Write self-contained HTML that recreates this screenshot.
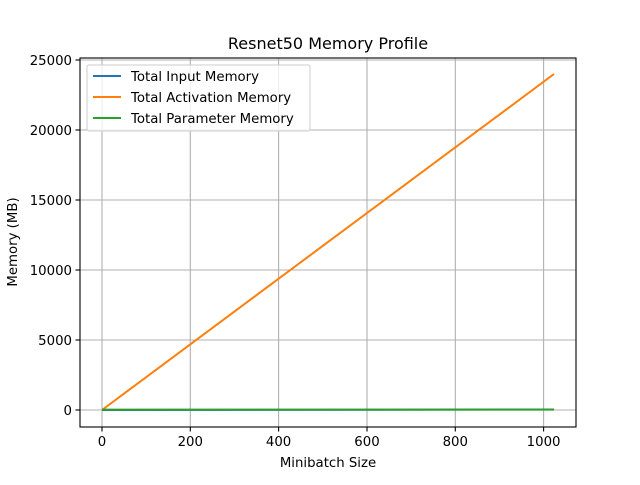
<!DOCTYPE html>
<html><head><meta charset="utf-8"><style>html,body{margin:0;padding:0;background:#fff}</style></head>
<body>
<svg width="640" height="480" xmlns="http://www.w3.org/2000/svg" font-family="'DejaVu Sans', sans-serif" font-size="13.3">
<rect width="640" height="480" fill="#fff"/>
<g stroke="#b0b0b0" stroke-width="1.1">
<line x1="102" y1="58" x2="102" y2="427"/><line x1="190.3" y1="58" x2="190.3" y2="427"/>
<line x1="278.6" y1="58" x2="278.6" y2="427"/><line x1="367" y1="58" x2="367" y2="427"/>
<line x1="455.3" y1="58" x2="455.3" y2="427"/><line x1="543.6" y1="58" x2="543.6" y2="427"/>
<line x1="80" y1="410" x2="576" y2="410"/><line x1="80" y1="340" x2="576" y2="340"/>
<line x1="80" y1="270" x2="576" y2="270"/><line x1="80" y1="200" x2="576" y2="200"/>
<line x1="80" y1="130" x2="576" y2="130"/><line x1="80" y1="60" x2="576" y2="60"/>
</g>
<line x1="102" y1="410" x2="554" y2="74" stroke="#ff7f0e" stroke-width="2"/>
<line x1="102" y1="410" x2="554" y2="409.5" stroke="#1f77b4" stroke-width="2"/>
<line x1="102" y1="409.6" x2="554" y2="409.6" stroke="#2ca02c" stroke-width="2"/>
<rect x="80" y="58" width="496" height="369" fill="none" stroke="#000" stroke-width="1.1"/>
<g stroke="#000" stroke-width="1.1">
<line x1="102" y1="427" x2="102" y2="431.5"/><line x1="190.3" y1="427" x2="190.3" y2="431.5"/>
<line x1="278.6" y1="427" x2="278.6" y2="431.5"/><line x1="367" y1="427" x2="367" y2="431.5"/>
<line x1="455.3" y1="427" x2="455.3" y2="431.5"/><line x1="543.6" y1="427" x2="543.6" y2="431.5"/>
<line x1="75.5" y1="410" x2="80" y2="410"/><line x1="75.5" y1="340" x2="80" y2="340"/>
<line x1="75.5" y1="270" x2="80" y2="270"/><line x1="75.5" y1="200" x2="80" y2="200"/>
<line x1="75.5" y1="130" x2="80" y2="130"/><line x1="75.5" y1="60" x2="80" y2="60"/>
</g>
<g text-anchor="middle">
<text x="102" y="446">0</text><text x="190.3" y="446">200</text><text x="278.6" y="446">400</text>
<text x="367" y="446">600</text><text x="455.3" y="446">800</text><text x="543.6" y="446">1000</text>
</g>
<g text-anchor="end">
<text x="72" y="415">0</text><text x="72" y="345">5000</text><text x="72" y="275">10000</text>
<text x="72" y="205">15000</text><text x="72" y="135">20000</text><text x="72" y="65">25000</text>
</g>
<text x="328" y="467" text-anchor="middle">Minibatch Size</text>
<text transform="translate(17,242) rotate(-90)" text-anchor="middle">Memory (MB)</text>
<text x="328" y="49" text-anchor="middle" font-size="16">Resnet50 Memory Profile</text>
<rect x="87" y="65" width="223" height="66" rx="2" fill="#fff" fill-opacity="0.8" stroke="#ccc" stroke-width="1"/>
<line x1="93" y1="76" x2="121" y2="76" stroke="#1f77b4" stroke-width="2"/>
<line x1="93" y1="97" x2="121" y2="97" stroke="#ff7f0e" stroke-width="2"/>
<line x1="93" y1="118" x2="121" y2="118" stroke="#2ca02c" stroke-width="2"/>
<text x="131" y="81">Total Input Memory</text>
<text x="131" y="102">Total Activation Memory</text>
<text x="131" y="123">Total Parameter Memory</text>
</svg>
</body></html>
